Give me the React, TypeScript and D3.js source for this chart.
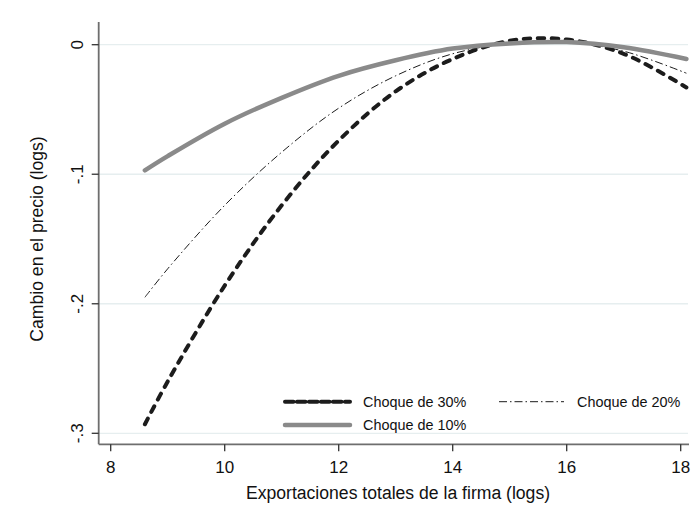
import React from 'react';
import * as d3 from 'd3';

// exportaciones (logs)
const exportLogs = [8.6, 9, 10, 11, 12, 13, 14, 15, 16, 17, 18.1];
// cambio en el precio (logs)
const shock30 = [-0.293, -0.26, -0.186, -0.124, -0.074, -0.036, -0.011, 0.003, 0.004, -0.007, -0.033];
const shock20 = [-0.195, -0.173, -0.124, -0.083, -0.049, -0.024, -0.007, 0.001, 0.002, -0.005, -0.022];
const shock10 = [-0.097, -0.086, -0.061, -0.041, -0.024, -0.012, -0.003, 0.001, 0.002, -0.002, -0.011];

const xTicks = [8, 10, 12, 14, 16, 18];
const yTicks = [0, -0.1, -0.2, -0.3];
const yTickLabels = ['0', '-.1', '-.2', '-.3'];
const seriesNames = ['Choque de 30%', 'Choque de 20%', 'Choque de 10%'];

const W = 693;
const H = 508;
const FONT = 'Liberation Sans, Arial, sans-serif';

const App = () => {
  const x = d3.scaleLinear().domain([8, 18]).range([110.7, 680.7]);
  const y = d3.scaleLinear().domain([0, -0.3]).range([44.7, 433.3]);
  const axisLeft = 98.7;
  const axisBottom = 444.3;
  const plotRight = 689;

  const line = (vals: number[]) =>
    d3
      .line<number>()
      .x((_, i) => x(exportLogs[i]))
      .y(d => y(d))
      .curve(d3.curveCatmullRom.alpha(0.5))(vals) || '';

  const styles = [
    { stroke: '#1c1c1c', width: 4, dash: '6.5 7.5', cap: 'round' as const },
    { stroke: '#1c1c1c', width: 1, dash: '8 3 1.5 3', cap: 'butt' as const },
    { stroke: '#8a8a8a', width: 4.5, dash: undefined, cap: 'round' as const },
  ];
  const series = [shock30, shock20, shock10];
  const legend = [
    { x: 283, y: 401.7 },
    { x: 497, y: 401.7 },
    { x: 283, y: 425 },
  ];

  return (
    <svg
      width={W}
      height={H}
      style={{ position: 'absolute', left: 0, top: 0, background: '#fff' }}
      fontFamily={FONT}
    >
      <rect width={W} height={H} fill="#fff" />
      {yTicks.map(t => (
        <line key={'g' + t} x1={axisLeft} x2={plotRight - 1} y1={y(t)} y2={y(t)} stroke="#e6eeef" strokeWidth={1.3} />
      ))}

      {series.map((s, i) => (
        <path
          key={i}
          d={line(s)}
          fill="none"
          stroke={styles[i].stroke}
          strokeWidth={styles[i].width}
          strokeDasharray={styles[i].dash}
          strokeLinecap={styles[i].cap}
        />
      ))}

      {/* ejes */}
      <line x1={axisLeft} x2={axisLeft} y1={22} y2={axisBottom} stroke="#6e6e6e" strokeWidth={1.8} />
      <line x1={axisLeft} x2={plotRight} y1={axisBottom} y2={axisBottom} stroke="#6e6e6e" strokeWidth={1.8} />
      {yTicks.map((t, i) => (
        <g key={'y' + t}>
          <line x1={axisLeft - 7} x2={axisLeft} y1={y(t)} y2={y(t)} stroke="#333" strokeWidth={1.3} />
          <text
            transform={`translate(${83},${y(t)}) rotate(-90)`}
            textAnchor="middle"
            fontSize={17}
            fill="#111"
          >
            {yTickLabels[i]}
          </text>
        </g>
      ))}
      {xTicks.map(t => (
        <g key={'x' + t}>
          <line x1={x(t)} x2={x(t)} y1={axisBottom} y2={axisBottom + 7} stroke="#333" strokeWidth={1.3} />
          <text x={x(t)} y={472.5} textAnchor="middle" fontSize={17} fill="#111">
            {t}
          </text>
        </g>
      ))}
      <text x={398} y={499} textAnchor="middle" fontSize={17.6} fill="#111">
        Exportaciones totales de la firma (logs)
      </text>
      <text transform="translate(43,239) rotate(-90)" textAnchor="middle" fontSize={17.6} fill="#111">
        Cambio en el precio (logs)
      </text>

      {/* leyenda */}
      {legend.map((l, i) => (
        <g key={'l' + i}>
          <line
            x1={l.x + 2}
            x2={l.x + 67}
            y1={l.y}
            y2={l.y}
            stroke={styles[i].stroke}
            strokeWidth={styles[i].width}
            strokeDasharray={i === 0 ? '8.5 3.5' : styles[i].dash}
            strokeLinecap={styles[i].cap}
          />
          <text x={l.x + 80} y={l.y + 5} fontSize={14.4} fill="#111">
            {seriesNames[i]}
          </text>
        </g>
      ))}
    </svg>
  );
};

export default App;
